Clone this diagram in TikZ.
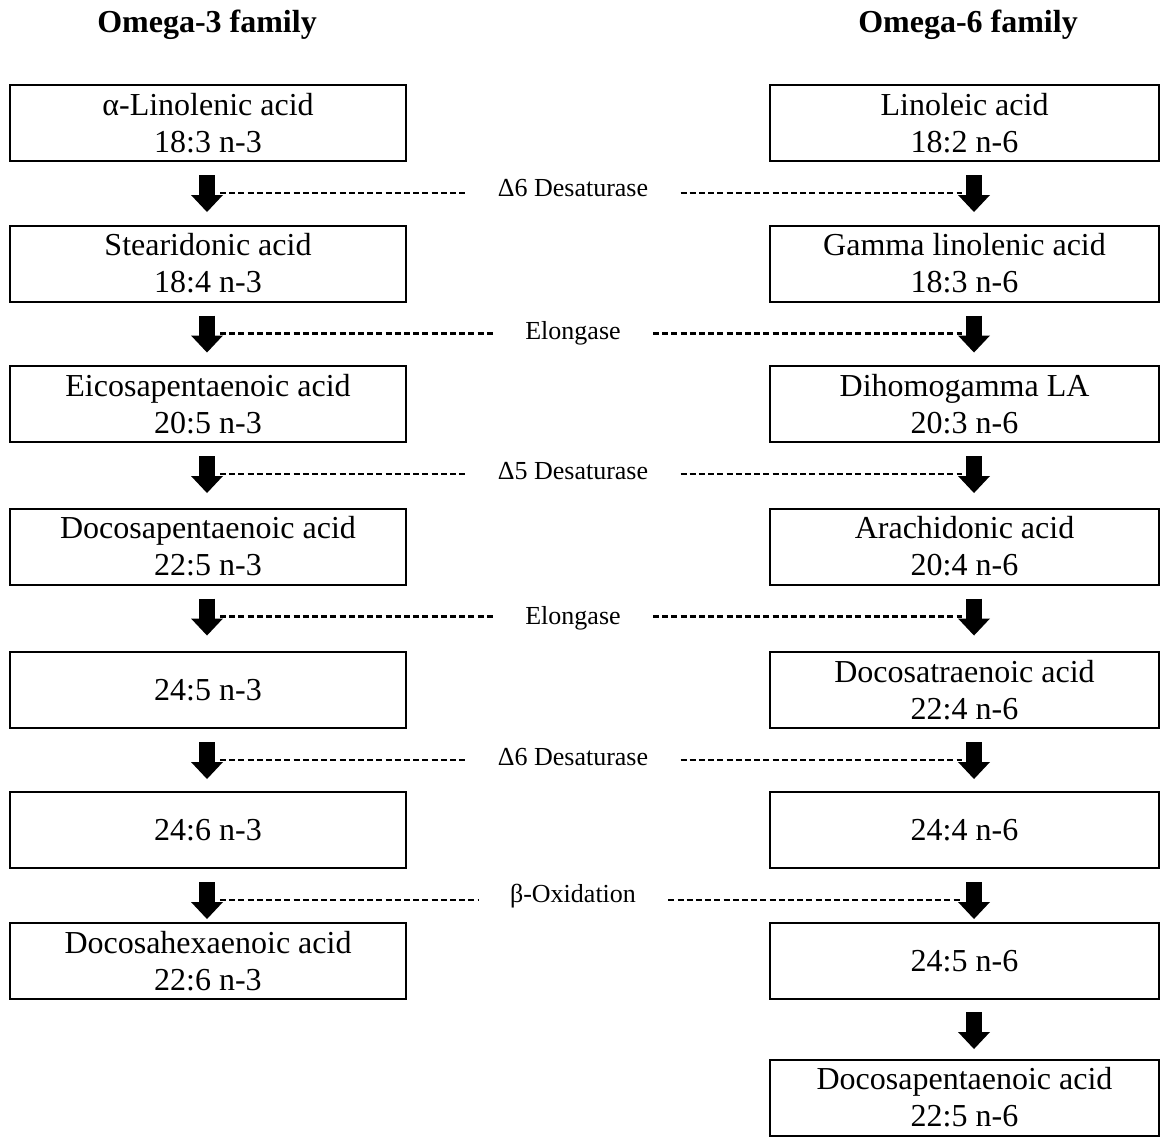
\documentclass[tikz,border=0pt]{standalone}
\usepackage{fontspec}
\setmainfont{Liberation Serif}
\usetikzlibrary{arrows.meta}
\begin{document}
\begin{tikzpicture}[x=0.5pt,y=-0.5pt,
  acid/.style={draw, line width=1pt, minimum height=38pt, inner sep=0pt,
    align=center, font=\fontsize{16}{18.5}\selectfont},
  lbox/.style={acid, minimum width=198pt},
  rbox/.style={acid, minimum width=194.5pt},
  enz/.style={inner sep=0pt, font=\fontsize{13}{15}\selectfont,
    text height=0.55em, text depth=0.05em},
  ttl/.style={inner sep=0pt, anchor=base, font=\fontsize{16}{18}\selectfont\bfseries},
  blk/.style={line width=8pt, -{Triangle[width=16pt,length=8.5pt,line width=0pt]}},
  dsh/.style={line width=1.1pt, dash pattern=on 3pt off 1.6pt}
]
\useasboundingbox (0,0) rectangle (1160,1136);

% titles
\node[ttl] (t3) at (207,32) {Omega-3 family};
\node[ttl] (t6) at (968,32) {Omega-6 family};

% omega-3 column
\node[lbox] (L1) at (208,123)   {α-Linolenic acid\\18:3 n-3};
\node[lbox] (L2) at (208,263.5) {Stearidonic acid\\18:4 n-3};
\node[lbox] (L3) at (208,404)   {Eicosapentaenoic acid\\20:5 n-3};
\node[lbox] (L4) at (208,546.5) {Docosapentaenoic acid\\22:5 n-3};
\node[lbox] (L5) at (208,690)   {24:5 n-3};
\node[lbox] (L6) at (208,830)   {24:6 n-3};
\node[lbox] (L7) at (208,961)   {Docosahexaenoic acid\\22:6 n-3};

% omega-6 column
\node[rbox] (R1) at (964.5,123)   {Linoleic acid\\18:2 n-6};
\node[rbox] (R2) at (964.5,263.5) {Gamma linolenic acid\\18:3 n-6};
\node[rbox] (R3) at (964.5,404)   {Dihomogamma LA\\20:3 n-6};
\node[rbox] (R4) at (964.5,546.5) {Arachidonic acid\\20:4 n-6};
\node[rbox] (R5) at (964.5,690)   {Docosatraenoic acid\\22:4 n-6};
\node[rbox] (R6) at (964.5,830)   {24:4 n-6};
\node[rbox] (R7) at (964.5,961)   {24:5 n-6};
\node[rbox] (R8) at (964.5,1097.5){Docosapentaenoic acid\\22:5 n-6};

% arrow tops
\foreach \i in {1,...,6} {
  \coordinate (la\i) at ([xshift=-0.5pt,yshift=-6.5pt]L\i.south);
  \coordinate (ra\i) at ([xshift=4.75pt,yshift=-6.5pt]R\i.south);
}
\coordinate (ra7) at ([xshift=4.75pt,yshift=-6pt]R7.south);

% enzyme labels
\node[enz] (e1) at (573,191) {Δ6 Desaturase};
\node[enz] (e2) at (573,334) {Elongase};
\node[enz] (e3) at (573,474) {Δ5 Desaturase};
\node[enz] (e4) at (573,619) {Elongase};
\node[enz] (e5) at (573,760) {Δ6 Desaturase};
\node[enz] (e6) at (573,897) {β-Oxidation};

% block arrows
\foreach \i in {1,...,6} {
  \draw[blk] (la\i) -- ++(0,37);
  \draw[blk] (ra\i) -- ++(0,37);
}
\draw[blk] (ra7) -- ++(0,37);

% dashed enzyme lines
\foreach \i in {1,...,6} {
  \coordinate (ld\i) at ([xshift=6.5pt,yshift=-9pt]la\i);
  \coordinate (rd\i) at ([xshift=-6pt,yshift=-9pt]ra\i);
  \draw[dsh, shorten >=16pt] (ld\i) -- (ld\i -| e\i.west);
  \draw[dsh, shorten <=16pt] (rd\i -| e\i.east) -- (rd\i);
}
\end{tikzpicture}
\end{document}
